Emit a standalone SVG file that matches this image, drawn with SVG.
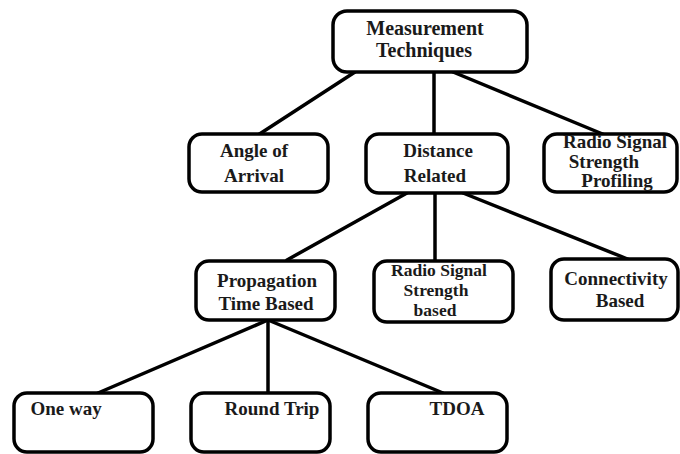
<svg xmlns="http://www.w3.org/2000/svg" width="680" height="454" viewBox="0 0 680 454">
<style>
.box{fill:#fff;stroke:#000;stroke-width:3.5}
.t{font-family:"Liberation Serif","Times New Roman",serif;font-weight:bold;font-size:19px;fill:#1a1a1a;text-anchor:middle}
.s{font-size:17.5px}
.c line{stroke:#000;stroke-width:3.5;stroke-linecap:round}
</style>
<rect width="680" height="454" fill="#fff"/>
<g class="c" id="connectors">
<line x1="355" y1="72" x2="258" y2="135"/>
<line x1="434" y1="72" x2="434" y2="135"/>
<line x1="453" y1="72" x2="605" y2="135"/>
<line x1="407" y1="193" x2="287" y2="260"/>
<line x1="435" y1="193" x2="435" y2="260"/>
<line x1="463" y1="193" x2="630" y2="260"/>
<line x1="268" y1="320" x2="98" y2="393"/>
<line x1="268" y1="320" x2="268" y2="393"/>
<line x1="268" y1="320" x2="443" y2="393"/>
</g>
<g id="measurement">
<rect class="box" x="333" y="11" width="194" height="61" rx="14"/>
<text class="t" x="425" y="35" style="font-size:20px">Measurement</text>
<text class="t" x="424" y="57" style="font-size:20px">Techniques</text>
</g>
<g id="angle">
<rect class="box" x="189" y="134" width="139" height="58" rx="13"/>
<text class="t" x="254" y="157">Angle of</text>
<text class="t" x="254" y="182">Arrival</text>
</g>
<g id="distance">
<rect class="box" x="366" y="134" width="142" height="59" rx="13"/>
<text class="t" x="438" y="157">Distance</text>
<text class="t" x="435" y="182">Related</text>
</g>
<g id="rssprofiling">
<rect class="box" x="544" y="134" width="133" height="58" rx="13"/>
<text class="t" x="615" y="148">Radio Signal</text>
<text class="t" x="604" y="168">Strength</text>
<text class="t" x="617" y="187">Profiling</text>
</g>
<g id="propagation">
<rect class="box" x="196" y="261" width="139" height="59" rx="13"/>
<text class="t" x="267" y="287">Propagation</text>
<text class="t" x="266" y="310">Time Based</text>
</g>
<g id="rssbased">
<rect class="box" x="374" y="261" width="139" height="61" rx="13"/>
<text class="t s" x="439" y="276">Radio Signal</text>
<text class="t s" x="436" y="296">Strength</text>
<text class="t s" x="435" y="316">based</text>
</g>
<g id="connectivity">
<rect class="box" x="551" y="259" width="127" height="61" rx="13"/>
<text class="t" x="616" y="285">Connectivity</text>
<text class="t" x="620" y="307">Based</text>
</g>
<g id="oneway">
<rect class="box" x="14" y="393" width="139" height="59" rx="13"/>
<text class="t" x="66" y="415">One way</text>
</g>
<g id="roundtrip">
<rect class="box" x="191" y="393" width="139" height="59" rx="13"/>
<text class="t" x="272" y="415">Round Trip</text>
</g>
<g id="tdoa">
<rect class="box" x="368" y="393" width="139" height="59" rx="13"/>
<text class="t" x="457" y="415">TDOA</text>
</g>
</svg>
